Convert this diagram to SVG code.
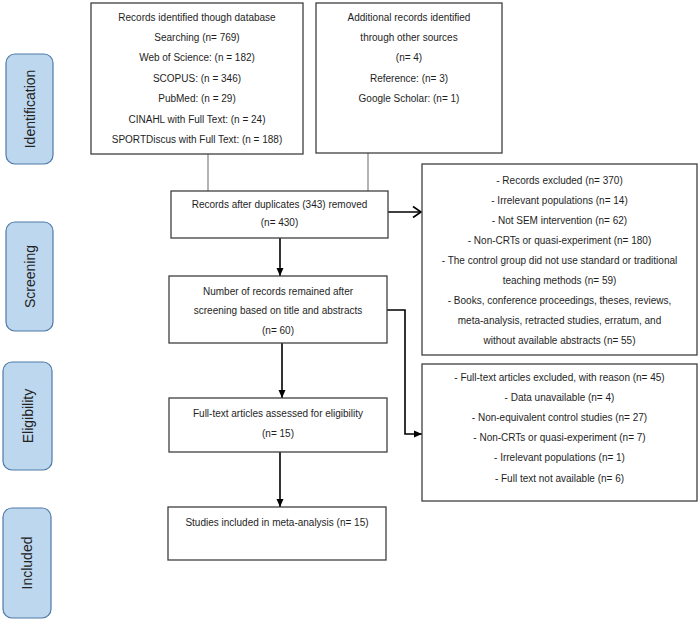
<svg xmlns="http://www.w3.org/2000/svg" width="700" height="621" viewBox="0 0 700 621">
<style>
  .box { fill: #ffffff; stroke: #3f3f3f; stroke-width: 1.3; }
  .stage { fill: #bdd7ee; stroke: #4f7ba8; stroke-width: 1.2; }
  .t { font-family: "Liberation Sans", Arial, sans-serif; font-size: 10px; fill: #1e1e1e; text-anchor: middle; }
  .st { font-family: "Liberation Sans", Arial, sans-serif; font-size: 14px; fill: #222; text-anchor: middle; }
  .gray { stroke: #808080; stroke-width: 1.2; fill: none; }
  .arr { stroke: #000; stroke-width: 1.6; fill: none; }
</style>
<defs>
  <marker id="tri" markerUnits="userSpaceOnUse" markerWidth="10" markerHeight="10" refX="8" refY="5" orient="auto">
    <path d="M0,1.5 L8,5 L0,8.5 Z" fill="#000"/>
  </marker>
  <marker id="open" markerUnits="userSpaceOnUse" markerWidth="12" markerHeight="14" refX="10" refY="7" orient="auto">
    <path d="M2,1.5 L10,7 L2,12.5" fill="none" stroke="#000" stroke-width="1.6"/>
  </marker>
</defs>
<rect width="700" height="621" fill="#ffffff"/>

<g id="stage-identification">
  <rect class="stage" x="6" y="54" width="47" height="110" rx="9"/>
  <text class="st" transform="translate(34.5,109) rotate(-90)">Identification</text>
</g>
<g id="stage-screening">
  <rect class="stage" x="6" y="222" width="47" height="109" rx="9"/>
  <text class="st" transform="translate(34.5,276.5) rotate(-90)">Screening</text>
</g>
<g id="stage-eligibility">
  <rect class="stage" x="3" y="362" width="49" height="108" rx="9"/>
  <text class="st" transform="translate(32.5,416) rotate(-90)">Eligibility</text>
</g>
<g id="stage-included">
  <rect class="stage" x="3" y="508" width="48" height="110" rx="9"/>
  <text class="st" transform="translate(32,563) rotate(-90)">Included</text>
</g>

<g id="connectors">
  <line class="gray" x1="208" y1="154" x2="208" y2="191"/>
  <line class="gray" x1="368" y1="153" x2="368" y2="191"/>
  <line class="arr" x1="280" y1="238" x2="280" y2="276" marker-end="url(#tri)"/>
  <line class="arr" x1="388" y1="212" x2="421" y2="212" marker-end="url(#open)"/>
  <line class="arr" x1="282" y1="343" x2="282" y2="398" marker-end="url(#tri)"/>
  <polyline class="arr" points="387,310 405,310 405,434 422,434" marker-end="url(#tri)"/>
  <line class="arr" x1="280" y1="452" x2="280" y2="507" marker-end="url(#tri)"/>
</g>

<g id="node-database">
  <rect class="box" x="91" y="3" width="212" height="151"/>
  <text class="t" x="197" y="20.5">Records identified though database</text>
  <text class="t" x="197" y="41">Searching (n= 769)</text>
  <text class="t" x="197" y="61.3">Web of Science: (n = 182)</text>
  <text class="t" x="197" y="81.7">SCOPUS: (n = 346)</text>
  <text class="t" x="197" y="102">PubMed: (n = 29)</text>
  <text class="t" x="197" y="122.5">CINAHL with Full Text: (n = 24)</text>
  <text class="t" x="197" y="143">SPORTDiscus with Full Text: (n = 188)</text>
</g>

<g id="node-other">
  <rect class="box" x="316" y="3" width="186" height="150"/>
  <text class="t" x="409" y="20.5">Additional records identified</text>
  <text class="t" x="409" y="41">through other sources</text>
  <text class="t" x="409" y="61.3">(n= 4)</text>
  <text class="t" x="409" y="81.7">Reference: (n= 3)</text>
  <text class="t" x="409" y="102">Google Scholar: (n= 1)</text>
</g>

<g id="node-duplicates">
  <rect class="box" x="171" y="191" width="217" height="47"/>
  <text class="t" x="279.5" y="207.5">Records after duplicates (343) removed</text>
  <text class="t" x="279.5" y="226">(n= 430)</text>
</g>

<g id="node-excluded">
  <rect class="box" x="422" y="164" width="275" height="191"/>
  <text class="t" x="559.5" y="183.5">- Records excluded (n= 370)</text>
  <text class="t" x="559.5" y="203.6">- Irrelevant populations (n= 14)</text>
  <text class="t" x="559.5" y="223.7">- Not SEM intervention (n= 62)</text>
  <text class="t" x="559.5" y="243.8">- Non-CRTs or quasi-experiment (n= 180)</text>
  <text class="t" x="559.5" y="263.9">- The control group did not use standard or traditional</text>
  <text class="t" x="559.5" y="284">teaching methods (n= 59)</text>
  <text class="t" x="559.5" y="304.1">- Books, conference proceedings, theses, reviews,</text>
  <text class="t" x="559.5" y="324.2">meta-analysis, retracted studies, erratum, and</text>
  <text class="t" x="559.5" y="344.3">without available abstracts (n= 55)</text>
</g>

<g id="node-screened">
  <rect class="box" x="169" y="276" width="218" height="67"/>
  <text class="t" x="278" y="294.5">Number of records remained after</text>
  <text class="t" x="278" y="314">screening based on title and abstracts</text>
  <text class="t" x="278" y="333.5">(n= 60)</text>
</g>

<g id="node-fulltext-excluded">
  <rect class="box" x="422" y="364" width="275" height="137"/>
  <text class="t" x="559.5" y="380.5">- Full-text articles excluded, with reason (n= 45)</text>
  <text class="t" x="559.5" y="400.7">- Data unavailable (n= 4)</text>
  <text class="t" x="559.5" y="420.9">- Non-equivalent control studies (n= 27)</text>
  <text class="t" x="559.5" y="441.1">- Non-CRTs or quasi-experiment (n= 7)</text>
  <text class="t" x="559.5" y="461.3">- Irrelevant populations (n= 1)</text>
  <text class="t" x="559.5" y="481.5">- Full text not available (n= 6)</text>
</g>

<g id="node-eligibility">
  <rect class="box" x="169" y="398" width="218" height="54"/>
  <text class="t" x="278" y="416.5">Full-text articles assessed for eligibility</text>
  <text class="t" x="278" y="436.5">(n= 15)</text>
</g>

<g id="node-included">
  <rect class="box" x="168" y="507" width="218" height="53"/>
  <text class="t" x="277" y="525.5">Studies included in meta-analysis (n= 15)</text>
</g>
</svg>
